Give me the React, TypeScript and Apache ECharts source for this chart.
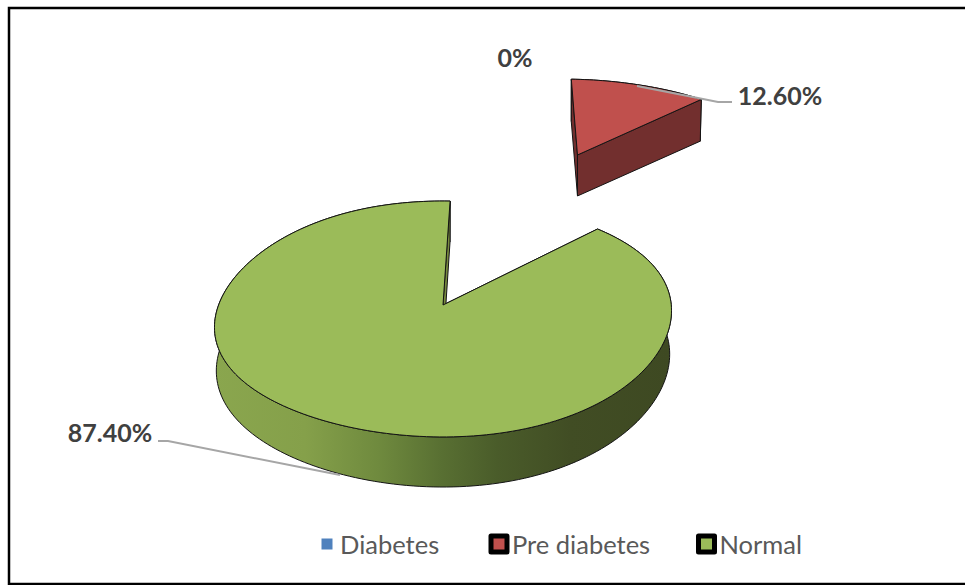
import React, { useEffect, useRef } from "react";
import * as echarts from "echarts";

// Screening outcome shares, in percent
const categories = ["Diabetes", "Pre diabetes", "Normal"];
const shares = [0, 12.6, 87.4];
const shareLabels = ["0%", "12.60%", "87.40%"];

const topColors = ["#4f81bd", "#c0504d", "#9bbb59"];
const wallColors = ["#385d8a", "#722f2e", "#4b5e2a"];
const blownOut = [0, 1.676, 0];

// Projection of the unit disc onto the canvas: a one-point perspective,
// with separate constants for the upper and the lower face of the pie
const CX = 443;
const CY = 305;
const KX = 226.9;
const KY = 116.3;
const PERSP = 0.1186;
const LOW_CY = 348;
const LOW_KY = 120.3;
const LOW_PERSP = 0.1347;
const LOW_NARROW = 0.992;
const TILT = 0.037;
const FIRST_ANGLE = 2;

const FONT = "Lato, Carlito, sans-serif";

const labelBoxes = [
  { x: 515, y: 57, line: null as number[][] | null },
  { x: 780, y: 95, line: [[637, 86], [698, 98], [718, 102], [732, 102]] },
  { x: 110, y: 432, line: [[158, 441], [168, 441], [340, 475]] },
];

const sideGradient = () =>
  new echarts.graphic.LinearGradient(
    214,
    0,
    671,
    0,
    [
      { offset: 0, color: "#8aa64e" },
      { offset: 0.2, color: "#85a04a" },
      { offset: 0.36, color: "#6f8a3e" },
      { offset: 0.5, color: "#586f32" },
      { offset: 0.62, color: "#4a5c2a" },
      { offset: 0.78, color: "#414d24" },
      { offset: 1, color: "#3e4922" },
    ],
    true
  );

// (ou, ov) is the slice's offset on the disc plane, (du, dv) the point relative to it
function project(ou: number, ov: number, du: number, dv: number, low: boolean) {
  const u = ou + du;
  const v = ov + dv;
  const den = 1 + PERSP * v;
  const lean = (TILT * KX * du * (1 - dv * dv)) / den;
  if (!low) {
    return [CX + (KX * u) / den, CY - (KY * v) / den - lean];
  }
  const lowDen = 1 + LOW_PERSP * v;
  return [
    CX + (KX * ou + KX * LOW_NARROW * du) / den,
    LOW_CY - (LOW_KY * v) / lowDen - lean,
  ];
}

function sliceElements(index: number, value: number) {
  const total = shares.reduce((a, b) => a + b, 0);
  const before = shares.slice(0, index).reduce((a, b) => a + b, 0);
  const children: any[] = [];

  if (value > 0) {
    const rad = Math.PI / 180;
    const a0 = FIRST_ANGLE + (before / total) * 360;
    const a1 = a0 + (value / total) * 360;
    const mid = ((a0 + a1) / 2) * rad;
    const ou = Math.sin(mid) * blownOut[index];
    const ov = Math.cos(mid) * blownOut[index];
    const at = (deg: number, low: boolean, r = 1) =>
      project(ou, ov, r * Math.sin(deg * rad), r * Math.cos(deg * rad), low);

    const steps = Math.ceil((a1 - a0) / 1.5);
    const angles: number[] = [];
    for (let i = 0; i <= steps; i++) angles.push(a0 + ((a1 - a0) * i) / steps);

    const edge = { stroke: "#141414", lineWidth: 1 };
    const wallFill = index === 2 ? sideGradient() : wallColors[index];

    // Outer curved wall
    children.push({
      type: "polygon",
      shape: {
        points: [
          ...angles.map((a) => at(a, false)),
          ...angles.slice().reverse().map((a) => at(a, true)),
        ],
      },
      style: { fill: wallFill, ...edge },
    });
    // The two flat cut faces
    [a0, a1].forEach((a) => {
      children.push({
        type: "polygon",
        shape: { points: [at(a, false, 0), at(a, false), at(a, true), at(a, true, 0)] },
        style: { fill: index === 2 ? "#77893f" : wallColors[index], ...edge },
      });
    });
    // Top face
    children.push({
      type: "polygon",
      shape: { points: [at(0, false, 0), ...angles.map((a) => at(a, false))] },
      style: { fill: topColors[index], ...edge },
    });
  }

  const box = labelBoxes[index];
  if (box.line) {
    children.push({
      type: "polyline",
      shape: { points: box.line },
      style: { fill: "none", stroke: "#a6a6a6", lineWidth: 2 },
    });
  }
  children.push({
    type: "text",
    x: box.x,
    y: box.y,
    style: {
      text: shareLabels[index],
      fill: "#404040",
      font: `bold 25px ${FONT}`,
      textAlign: "center",
      textVerticalAlign: "middle",
    },
  });
  return children;
}

const legendSlots = [316.5, 488.5, 696];

export default function App() {
  const ref = useRef<HTMLDivElement>(null);

  useEffect(() => {
    document.body.style.margin = "0";
    const chart = echarts.init(ref.current!, null, { renderer: "svg" });
    chart.setOption({
      animation: false,
      backgroundColor: "#ffffff",
      legend: categories.map((name, i) => ({
        data: [
          {
            name,
            icon: "rect",
            itemStyle: {
              color: topColors[i],
              borderColor: i === 0 ? "#ffffff" : "#000000",
              borderWidth: 5,
              borderJoin: "round",
            },
          },
        ],
        left: legendSlots[i],
        top: 531,
        padding: 0,
        itemWidth: 16,
        itemHeight: 16,
        itemGap: 0,
        selectedMode: false,
        textStyle: { fontFamily: FONT, fontSize: 25.5, color: "#595959" },
      })),
      graphic: [
        {
          type: "polyline",
          silent: true,
          z: 10,
          shape: { points: [[965, 8], [9, 8], [9, 584], [965, 584]] },
          style: { fill: "none", stroke: "#000000", lineWidth: 2.5 },
        },
      ],
      series: categories.map((name, i) => ({
        type: "custom",
        name,
        coordinateSystem: "none",
        silent: true,
        data: [[shares[i]]],
        itemStyle: { color: topColors[i] },
        renderItem: (_params: any, api: any) => ({
          type: "group",
          children: sliceElements(i, api.value(0)),
        }),
      })),
    });
    return () => chart.dispose();
  }, []);

  return (
    <div
      ref={ref}
      style={{ position: "fixed", left: 0, top: 0, width: 965, height: 585 }}
    />
  );
}
